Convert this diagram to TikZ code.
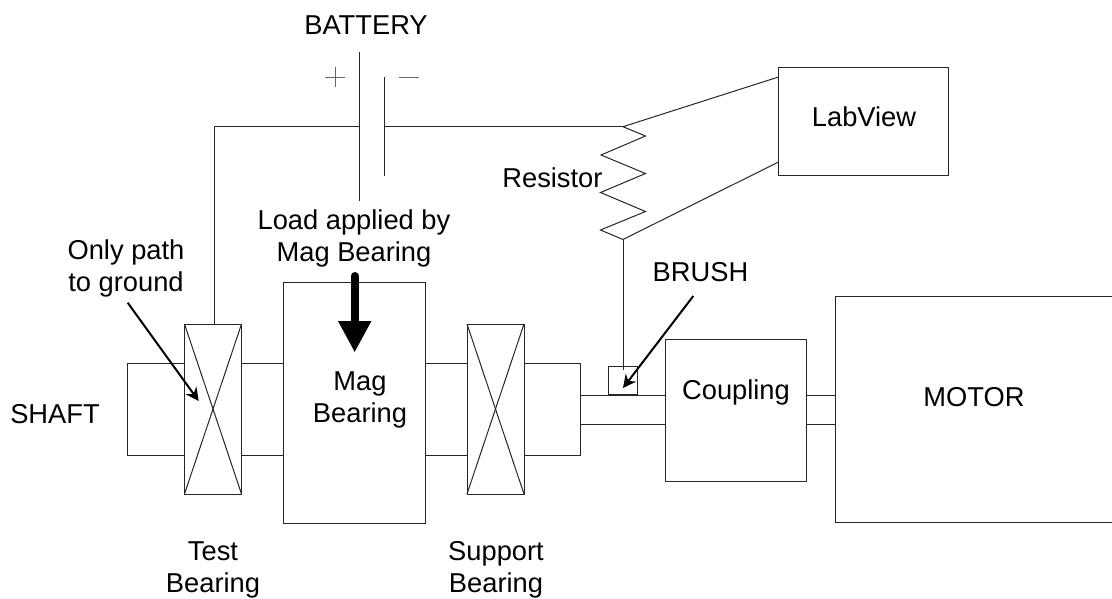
\documentclass[tikz,border=0pt]{standalone}
\usepackage{fontspec}
\setmainfont{Liberation Sans}
\usetikzlibrary{arrows.meta}

\begin{document}
\begin{tikzpicture}[x=1pt,y=-1pt,line width=1pt,color=black!85]
	\tikzstyle{part}=[draw,shape=rectangle,inner sep=0pt,outer sep=0pt]
	\tikzstyle{label}=[text=black,inner sep=0pt,font=\fontsize{27.3}{32}\selectfont,align=center]
	\tikzstyle{pointer}=[black,line width=2pt,-{Stealth[length=13pt,width=13pt]}]
	\useasboundingbox (0,0) rectangle (1112,598);

	% shaft
	\node[part,minimum width=57pt,minimum height=92pt](shaftA) at (156.2,409){};
	\node[part,minimum width=42pt,minimum height=92pt](shaftB) at (262.5,409){};
	\node[part,minimum width=42pt,minimum height=92pt](shaftC) at (446,409){};
	\node[part,minimum width=56.7pt,minimum height=92pt](shaftD) at (552.3,409){};
	\node[part,minimum width=85pt,minimum height=29pt](shaftE) at (623.2,409.5){};
	\node[part,minimum width=29pt,minimum height=29pt](shaftF) at (821.2,409.5){};

	% bearings, coupling and motor
	\node[part,fill=white,minimum width=57pt,minimum height=170pt](testbrg) at (213,409){};
	\node[part,fill=white,minimum width=141.5pt,minimum height=241pt](magbrg) at (354.25,402.5){};
	\node[part,fill=white,minimum width=57pt,minimum height=170pt](suppbrg) at (495.5,409){};
	\node[part,fill=white,minimum width=141pt,minimum height=142pt](coupling) at (736.2,410){};
	\node[part,minimum width=277pt,minimum height=226pt](motor) at (974.2,409.2){};
	\node[part,minimum width=28.6pt,minimum height=28.3pt](brush) at (623,380.8){};
	\node[part,minimum width=169.5pt,minimum height=108.5pt](labview) at (863.3,121.7){};

	\draw (testbrg.north west) -- (testbrg.south east);
	\draw (testbrg.north east) -- (testbrg.south west);
	\draw (suppbrg.north west) -- (suppbrg.south east);
	\draw (suppbrg.north east) -- (suppbrg.south west);

	% battery
	\coordinate (plateAtop) at (359.7,52);
	\coordinate (plateAbot) at (359.7,201);
	\coordinate (plateBtop) at (384.3,77);
	\coordinate (plateBbot) at (384.3,176);
	\coordinate (plateAmid) at (359.7,126.7);
	\coordinate (plateBmid) at (384.3,126.7);
	\coordinate (corner) at (214.3,126.7);
	\coordinate (resA) at (623,126.7);
	\coordinate (resB) at (623,239.5);
	\draw (plateAtop) -- (plateAbot);
	\draw (plateBtop) -- (plateBbot);
	\draw (testbrg.north -| corner) -- (corner) -- (plateAmid);
	\draw (plateBmid) -- (resA);
	\draw[black!60] (325,77) -- (345,77);
	\draw[black!60] (335,67) -- (335,87);
	\draw[black!60] (399,77) -- (419,77);

	% resistor
	\coordinate (z1) at (645.5,136);
	\coordinate (z2) at (601,155);
	\coordinate (z3) at (645.5,173.5);
	\coordinate (z4) at (600.5,192.5);
	\coordinate (z5) at (645.5,211.5);
	\coordinate (z6) at (600.5,230);
	\draw (resA) -- (z1) -- (z2) -- (z3) -- (z4) -- (z5) -- (z6) -- (resB);
	\coordinate (brushend) at (623,370);
	\coordinate (labA) at (778.5,77);
	\coordinate (labB) at (778.5,162);
	\draw (resB) -- (brushend);
	\draw (resA) -- (labA);
	\draw (resB) -- (labB);

	% arrows
	\coordinate (pathS) at (127.7,302.7);
	\coordinate (pathE) at (198.7,401);
	\coordinate (brushS) at (693.3,296);
	\coordinate (brushE) at (623,388);
	\coordinate (loadS) at (354.7,276);
	\coordinate (loadE) at (354.7,352.5);
	\draw[pointer] (pathS) -- (pathE);
	\draw[pointer] (brushS) -- (brushE);
	\draw[black,line width=8pt,line cap=round,-{Triangle[length=31.5pt,width=31pt]}] (loadS) -- (loadE);

	% labels
	\node[label](battery) at (366,25){BATTERY};
	\node[label](labviewtxt) at (864,117){LabView};
	\node[label,anchor=east](resistor) at (603,178){Resistor};
	\node[label](load) at (354,238.5){Load applied by\\Mag Bearing};
	\node[label](onlypath) at (126,268.5){Only path\\to ground};
	\node[label](brushtxt) at (700.5,272){BRUSH};
	\node[label](shafttxt) at (55,414){SHAFT};
	\node[label](magtxt) at (360,400){Mag\\Bearing};
	\node[label](couplingtxt) at (736,392){Coupling};
	\node[label](motortxt) at (974,397){MOTOR};
	\node[label](testtxt) at (213,570){Test\\Bearing};
	\node[label](supptxt) at (496,570){Support\\Bearing};
\end{tikzpicture}
\end{document}
